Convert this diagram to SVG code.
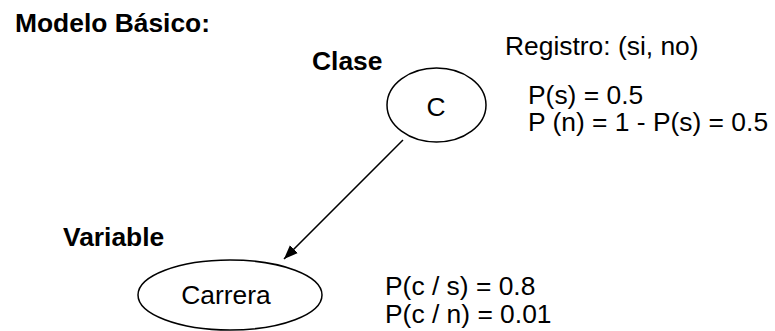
<svg xmlns="http://www.w3.org/2000/svg" width="775" height="331" viewBox="0 0 775 331">
<defs>
<style>
text{font-family:"Liberation Sans",Arial,sans-serif;fill:#000;font-size:26.4px}
.b{font-weight:bold}
.node{fill:#fff;stroke:#000;stroke-width:1.5}
.edge{stroke:#000;stroke-width:1.5;fill:none}
</style>
<marker id="ah" viewBox="0 0 10 10" refX="10" refY="5" markerWidth="14" markerHeight="14" markerUnits="userSpaceOnUse" orient="auto">
<path d="M0,1 L10,5 L0,9 z" fill="#000"/>
</marker>
</defs>
<rect width="775" height="331" fill="#fff"/>
<text class="b" x="15" y="32">Modelo Básico:</text>
<text class="b" x="312" y="70">Clase</text>
<text class="b" x="63" y="246">Variable</text>
<g id="edges">
<line class="edge" x1="403" y1="140" x2="284" y2="259" marker-end="url(#ah)"/>
</g>
<g id="node-c">
<ellipse class="node" cx="436.5" cy="105" rx="49.5" ry="37"/>
<text x="436" y="116" text-anchor="middle" font-size="30">C</text>
</g>
<g id="node-carrera">
<ellipse class="node" cx="230" cy="295" rx="92" ry="35"/>
<text x="226" y="304" text-anchor="middle">Carrera</text>
</g>
<g id="notes">
<text x="505" y="55">Registro: (si, no)</text>
<text x="528" y="104">P(s) = 0.5</text>
<text x="528" y="131">P (n) = 1 - P(s) = 0.5</text>
<text x="385" y="295">P(c / s) = 0.8</text>
<text x="385" y="323">P(c / n) = 0.01</text>
</g>
</svg>
